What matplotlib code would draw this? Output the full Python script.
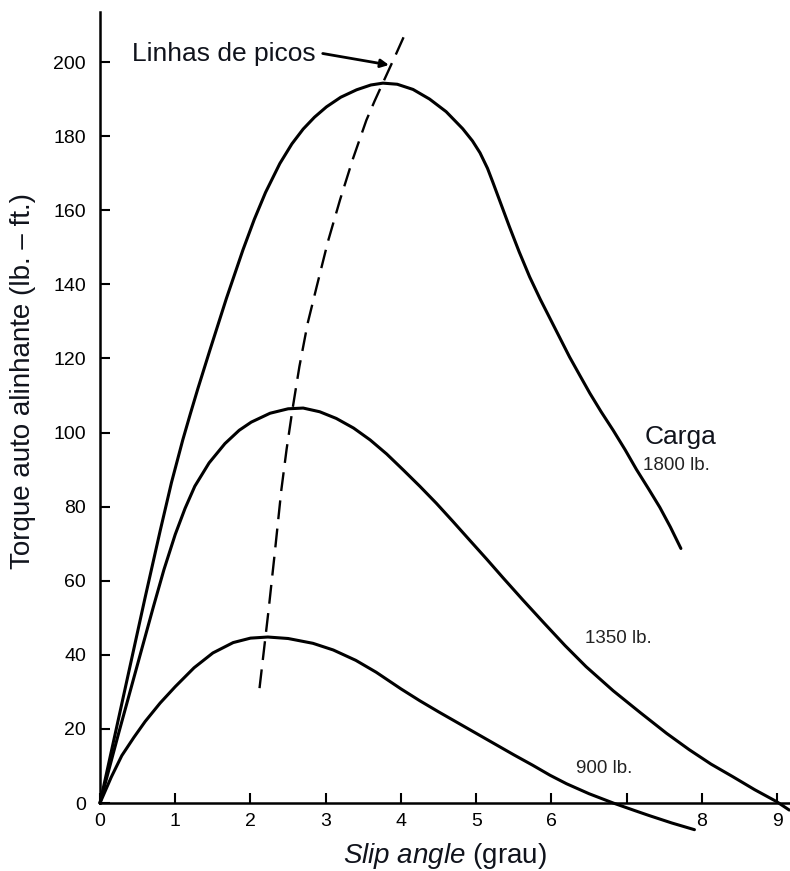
import matplotlib
matplotlib.use("Agg")
import matplotlib.pyplot as plt

plt.rcParams['font.family'] = ['Liberation Sans', 'DejaVu Sans']
plt.rcParams['mathtext.fontset'] = 'custom'
plt.rcParams['mathtext.it'] = 'Liberation Sans:italic'
plt.rcParams['mathtext.rm'] = 'Liberation Sans'

# ---- data ----
x_1800 = [0, 0.2, 0.4, 0.6, 0.8, 0.95, 1.1, 1.2, 1.3, 1.46, 1.68, 1.9, 2.05, 2.2, 2.39, 2.55,
          2.7, 2.85, 3.01, 3.2, 3.41, 3.6, 3.76, 3.95, 4.16, 4.38, 4.6, 4.82, 4.95, 5.05, 5.15,
          5.22, 5.33, 5.44, 5.57, 5.71, 5.85, 5.98, 6.11, 6.24, 6.38, 6.51, 6.66, 6.82, 6.98,
          7.13, 7.29, 7.44, 7.58, 7.72]
y_1800 = [0, 18.5, 37, 55.5, 73.5, 86.5, 98.0, 105.0, 111.8, 122.2, 136.2, 149.3, 157.5, 164.8,
          172.6, 177.9, 181.9, 185.1, 187.9, 190.5, 192.5, 193.8, 194.3, 194.0, 192.6, 190.0,
          186.6, 182.0, 178.7, 175.5, 171.3, 167.6, 161.6, 155.6, 148.8, 142.0, 136.0, 130.8,
          125.6, 120.4, 115.3, 110.6, 105.6, 100.6, 95.3, 90.0, 84.8, 79.8, 74.5, 68.7]

x_1350 = [0, 0.25, 0.5, 0.71, 0.85, 1.0, 1.13, 1.26, 1.45, 1.66, 1.85, 2.01, 2.26, 2.5, 2.7,
          2.92, 3.14, 3.37, 3.59, 3.81, 4.03, 4.25, 4.47, 4.69, 4.91, 5.14, 5.36, 5.62, 5.9,
          6.18, 6.46, 6.82, 7.18, 7.53, 7.83, 8.12, 8.41, 8.7, 8.99, 9.16]
y_1350 = [0, 19, 37.5, 53, 63, 72.5, 79.5, 85.5, 91.8, 97.0, 100.6, 102.8, 105.2, 106.4, 106.6,
          105.6, 103.8, 101.2, 98.0, 94.2, 89.9, 85.5, 80.9, 76.0, 71.0, 65.8, 60.7, 54.8, 48.6,
          42.5, 36.8, 30.3, 24.4, 18.8, 14.4, 10.5, 7.1, 3.6, 0.4, -1.9]

x_900 = [0, 0.15, 0.29, 0.45, 0.6, 0.8, 1.0, 1.25, 1.5, 1.77, 2.0, 2.23, 2.5, 2.83, 3.1, 3.4,
         3.67, 4.0, 4.25, 4.5, 4.75, 5.0, 5.25, 5.5, 5.75, 5.98, 6.2, 6.5, 6.82, 7.1, 7.3, 7.6, 7.9]
y_900 = [0, 7, 12.8, 17.7, 22, 27, 31.4, 36.5, 40.5, 43.3, 44.5, 44.8, 44.4, 43.1, 41.3, 38.5,
         35.3, 30.8, 27.6, 24.6, 21.7, 18.8, 15.9, 13.0, 10.2, 7.5, 5.2, 2.5, 0.0, -2.0, -3.4,
         -5.4, -7.2]

x_peaks = [2.12, 2.18, 2.24, 2.32, 2.41, 2.48, 2.56, 2.65, 2.76, 2.88, 3.03, 3.19, 3.36, 3.54,
           3.65, 3.76, 3.92, 4.07]
y_peaks = [31, 41.5, 52, 67, 84.5, 95.5, 106.5, 117.8, 129.5, 139.4, 151.6, 162.8, 173.8, 184.3,
           189.5, 194.4, 201.5, 208.3]

x_ticks = [0, 1, 2, 3, 4, 5, 6, 7, 8, 9]
x_ticklabels = ["0", "1", "2", "3", "4", "5", "6", "", "8", "9"]
y_ticks = [0, 20, 40, 60, 80, 100, 120, 140, 160, 180, 200]

fig = plt.figure(figsize=(7.9, 8.71), dpi=100)
ax = fig.add_axes([100/790, 1-803/871, 690/790, 791/871])

lw = 2.2
for xs, ys in [(x_1800, y_1800), (x_1350, y_1350), (x_900, y_900)]:
    ax.plot(xs, ys, color='black', lw=lw, solid_capstyle='round',
            solid_joinstyle='round', clip_on=False)
ax.plot(x_peaks, y_peaks, color='black', lw=1.7, linestyle=(0, (8, 4)), clip_on=False)

ax.set_xlim(0, 9.17)
ax.set_ylim(0, 213.5)

for s in ['top', 'right']:
    ax.spines[s].set_visible(False)
for s in ['left', 'bottom']:
    ax.spines[s].set_linewidth(1.8)

ax.set_xticks(x_ticks)
ax.set_xticklabels(x_ticklabels)
ax.set_yticks(y_ticks)
ax.tick_params(axis='both', direction='in', length=7, width=1.5, labelsize=14, colors='black')
ax.tick_params(axis='y', pad=10)
ax.tick_params(axis='x', pad=7)

ax.set_ylabel('Torque auto alinhante (lb. – ft.)', fontsize=20, color='#10131c')
ax.yaxis.set_label_coords(-0.093, 0.533)
ax.set_xlabel(r'$\mathit{Slip\ angle}$ (grau)', fontsize=20, color='#10131c')
ax.xaxis.set_label_coords(0.5, -0.048)

ax.text(0.425, 202.2, 'Linhas de picos', fontsize=19, va='center', ha='left', color='#10131c')
ax.annotate('', xy=(3.84, 199.2), xytext=(2.96, 202.3),
            arrowprops=dict(arrowstyle='-|>', lw=2, color='black', mutation_scale=12,
                            shrinkA=0, shrinkB=0))

ax.text(7.24, 98.8, 'Carga', fontsize=19, va='center', ha='left', color='#10131c')
ax.text(7.21, 91.0, '1800 lb.', fontsize=13.5, va='center', ha='left', color='#222222')
ax.text(6.44, 44.5, '1350 lb.', fontsize=13.5, va='center', ha='left', color='#222222')
ax.text(6.32, 9.2, '900 lb.', fontsize=13.5, va='center', ha='left', color='#222222')

fig.savefig('out.png', dpi=100)
